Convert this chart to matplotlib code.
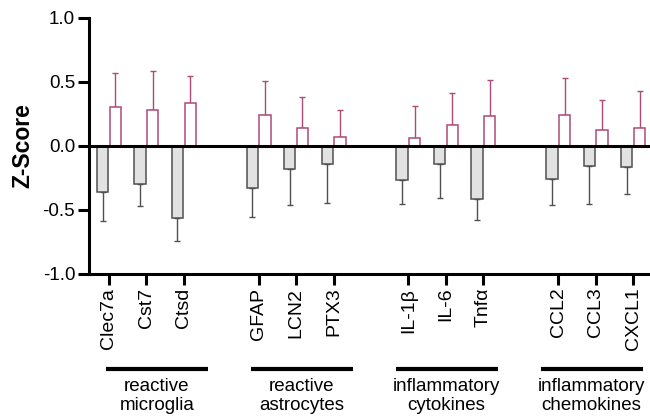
import matplotlib.pyplot as plt
import numpy as np

plt.rcParams['font.family'] = ['Liberation Sans', 'DejaVu Sans']

# Data
genes = ['Clec7a', 'Cst7', 'Ctsd', 'GFAP', 'LCN2', 'PTX3',
         'IL-1β', 'IL-6', 'Tnfα', 'CCL2', 'CCL3', 'CXCL1']
groups = ['reactive\nmicroglia', 'reactive\nastrocytes',
          'inflammatory\ncytokines', 'inflammatory\nchemokines']
grey_mean = [-0.36, -0.30, -0.565, -0.33, -0.18, -0.14,
             -0.27, -0.14, -0.415, -0.26, -0.16, -0.165]
grey_err = [0.23, 0.17, 0.175, 0.23, 0.285, 0.31,
            0.185, 0.27, 0.165, 0.20, 0.295, 0.21]
pink_mean = [0.30, 0.28, 0.33, 0.24, 0.14, 0.068,
             0.06, 0.16, 0.235, 0.24, 0.12, 0.135]
pink_err = [0.27, 0.30, 0.215, 0.265, 0.24, 0.212,
            0.25, 0.25, 0.275, 0.29, 0.235, 0.295]

pink = '#ad4a76'
edge_grey = '#505050'

# positions: 3 genes per group, one empty slot between groups
pos = np.array([g * 4 + k for g in range(4) for k in range(3)], dtype=float)
zero = np.zeros(len(pos))

fig = plt.figure(figsize=(6.5, 4.2), dpi=100)
ax = fig.add_axes([0.137, 0.348, 0.863, 0.610])

w = 0.3
off = 0.17
ax.bar(pos - off, grey_mean, width=w, color='#e2e2e2', edgecolor=edge_grey,
       linewidth=1.1, zorder=2)
# one-sided error bars, pointing away from zero
ax.errorbar(pos - off, grey_mean, yerr=[grey_err, zero], fmt='none',
            ecolor=edge_grey, elinewidth=1.0, capsize=2.5, capthick=1.0, zorder=1)
ax.bar(pos + off, pink_mean, width=w, color='white', edgecolor=pink,
       linewidth=1.1, zorder=2)
ax.errorbar(pos + off, pink_mean, yerr=[zero, pink_err], fmt='none',
            ecolor=pink, elinewidth=1.0, capsize=2.5, capthick=1.0, zorder=1)

ax.axhline(0, color='black', linewidth=2.2, zorder=3)

ax.set_xlim(-0.53, 14.45)
ax.set_ylim(-1.0, 1.0)
ax.set_yticks([-1.0, -0.5, 0.0, 0.5, 1.0])
ax.set_yticklabels(['-1.0', '-0.5', '0.0', '0.5', '1.0'])
ax.set_xticks(pos)
ax.set_xticklabels(genes, rotation=90, fontsize=14)
ax.tick_params(axis='y', labelsize=13.5, width=2.2, length=8, pad=2)
ax.tick_params(axis='x', width=2.2, length=8, pad=2)
ax.set_ylabel('Z-Score', fontsize=16.5, fontweight='bold', labelpad=6)

for side in ['top', 'right']:
    ax.spines[side].set_visible(False)
for side in ['left', 'bottom']:
    ax.spines[side].set_linewidth(2.2)

# group bars and labels below the axis
trans = ax.get_xaxis_transform()
for g, name in enumerate(groups):
    mid = 1.28 + g * 3.87
    ax.plot([mid - 1.36, mid + 1.36], [-0.37, -0.37], color='black',
            linewidth=3, transform=trans, clip_on=False, solid_capstyle='butt')
    ax.text(mid, -0.405, name, transform=trans, ha='center', va='top',
            fontsize=13.5, linespacing=1.15)

fig.savefig('out.png', dpi=100)
